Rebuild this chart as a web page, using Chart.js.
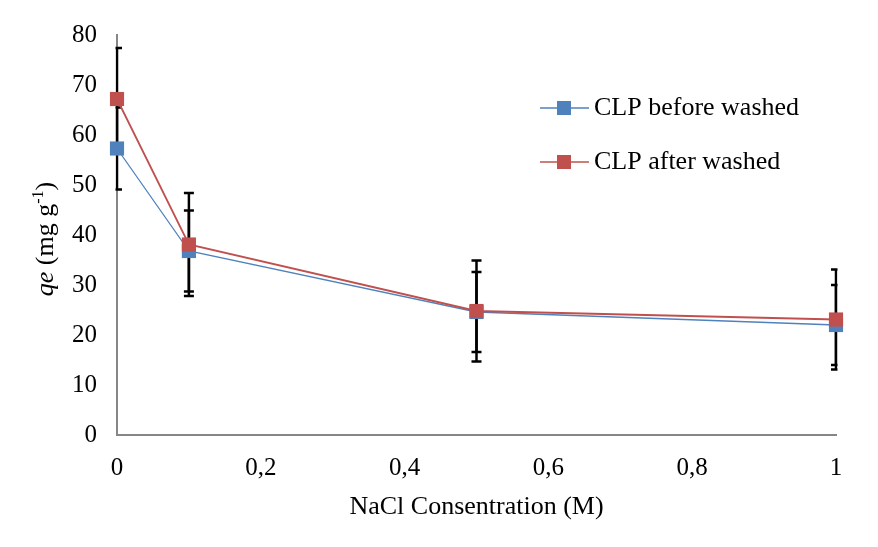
<!DOCTYPE html>
<html>
<head>
<meta charset="utf-8">
<script src="https://cdn.jsdelivr.net/npm/chart.js@4.4.0/dist/chart.umd.min.js"></script>
<style>
  html, body { margin: 0; padding: 0; background: #fff; }
  #wrap { width: 878px; height: 547px; }
</style>
</head>
<body>
<div id="wrap"><canvas id="myChart" width="878" height="547"></canvas></div>
<script>
const nacl = [0, 0.1, 0.5, 1];
const beforeWashed = [57.3, 36.8, 24.6, 22.0];
const beforeErr = [8.2, 8.1, 8.0, 8.0];
const afterWashed = [67.2, 38.1, 24.8, 23.1];
const afterErr = [10.2, 10.3, 10.1, 10.0];

const FONT = "'Liberation Serif', 'Times New Roman', serif";

// error bars, drawn under the markers
const errorBars = {
  id: "errorBars",
  beforeDatasetsDraw(chart) {
    const ctx = chart.ctx, x = chart.scales.x, y = chart.scales.y, a = chart.chartArea;
    ctx.save();
    ctx.beginPath();
    ctx.rect(a.left - 1.5, a.top, a.right - a.left + 3, a.bottom - a.top);
    ctx.clip();
    ctx.strokeStyle = "#000";
    ctx.lineWidth = 2.5;
    chart.data.datasets.forEach(ds => {
      ds.data.forEach((p, i) => {
        const px = x.getPixelForValue(p.x);
        const hi = y.getPixelForValue(p.y + ds.err[i]);
        const lo = y.getPixelForValue(p.y - ds.err[i]);
        ctx.beginPath();
        ctx.moveTo(px, hi); ctx.lineTo(px, lo);
        ctx.moveTo(px - 5, hi); ctx.lineTo(px + 5, hi);
        ctx.moveTo(px - 5, lo); ctx.lineTo(px + 5, lo);
        ctx.stroke();
      });
    });
    ctx.restore();
  }
};

// legend box inside plot + y title with italic / superscript
const extras = {
  id: "extras",
  afterDraw(chart) {
    const ctx = chart.ctx;
    ctx.save();
    const rows = [chart.data.datasets[0], chart.data.datasets[1]];
    rows.forEach((ds, i) => {
      const cy = 108 + i * 54;
      ctx.strokeStyle = ds.borderColor;
      ctx.lineWidth = 1.5;
      ctx.beginPath(); ctx.moveTo(540, cy); ctx.lineTo(589, cy); ctx.stroke();
      ctx.fillStyle = ds.backgroundColor;
      ctx.fillRect(557, cy - 7, 14, 14);
      ctx.fillStyle = "#000";
      ctx.font = "26px " + FONT;
      ctx.textBaseline = "middle";
      ctx.fillText(ds.label, 594, cy);
    });

    // y title
    ctx.translate(44, 239);
    ctx.rotate(-Math.PI / 2);
    ctx.fillStyle = "#000";
    ctx.textBaseline = "alphabetic";
    const parts = [
      {t: "qe", f: "italic 26px " + FONT, dy: 0},
      {t: " (mg g", f: "26px " + FONT, dy: 0},
      {t: "-1", f: "16px " + FONT, dy: -10},
      {t: ")", f: "26px " + FONT, dy: 0}
    ];
    let w = 0;
    parts.forEach(p => { ctx.font = p.f; w += ctx.measureText(p.t).width; });
    let cx = -w / 2;
    parts.forEach(p => {
      ctx.font = p.f;
      ctx.fillText(p.t, cx, 9 + p.dy);
      cx += ctx.measureText(p.t).width;
    });
    ctx.restore();
  }
};

new Chart("myChart", {
  type: "line",
  data: {
    datasets: [{
      label: "CLP before washed",
      data: nacl.map((v, i) => ({x: v, y: beforeWashed[i]})),
      err: beforeErr,
      borderColor: "#4F81BD",
      backgroundColor: "#4F81BD",
      borderWidth: 1.3,
      pointStyle: "rect",
      pointRadius: 10,
      pointHoverRadius: 10,
      pointBorderWidth: 0,
      clip: false,
      order: 1
    }, {
      label: "CLP after washed",
      data: nacl.map((v, i) => ({x: v, y: afterWashed[i]})),
      err: afterErr,
      borderColor: "#C0504D",
      backgroundColor: "#C0504D",
      borderWidth: 1.8,
      pointStyle: "rect",
      pointRadius: 10,
      pointHoverRadius: 10,
      pointBorderWidth: 0,
      clip: false,
      order: 0
    }]
  },
  options: {
    responsive: false,
    animation: false,
    layout: {padding: {top: 34, right: 42, left: 0, bottom: 0}},
    plugins: {legend: {display: false}, tooltip: {enabled: false}},
    scales: {
      x: {
        type: "linear",
        min: 0, max: 1,
        afterFit(s) { s.height = 112; },
        grid: {display: false, drawTicks: false},
        border: {color: "#868686", width: 2},
        ticks: {
          stepSize: 0.2,
          padding: 18,
          color: "#000",
          font: {family: FONT, size: 25},
          callback: v => String(Math.round(v * 10) / 10).replace(".", ",")
        },
        title: {
          display: true,
          text: "NaCl Consentration (M)",
          color: "#000",
          font: {family: FONT, size: 26},
          padding: {top: 0, bottom: 24}
        }
      },
      y: {
        min: 0, max: 80,
        afterFit(s) { s.width = 117; },
        grid: {display: false, drawTicks: false},
        border: {color: "#868686", width: 2},
        ticks: {
          stepSize: 10,
          padding: 20,
          color: "#000",
          font: {family: FONT, size: 25}
        }
      }
    }
  },
  plugins: [errorBars, extras]
});
</script>
</body>
</html>
